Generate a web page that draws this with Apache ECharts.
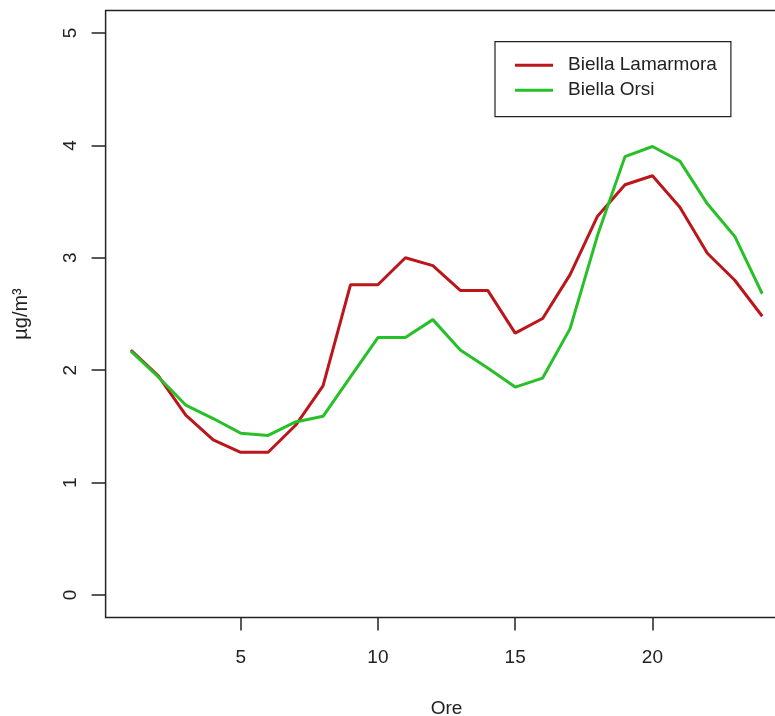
<!DOCTYPE html>
<html>
<head>
<meta charset="utf-8">
<script src="https://cdn.jsdelivr.net/npm/echarts@6/dist/echarts.min.js"></script>
<style>html,body{margin:0;padding:0;background:#fff}#c{width:775px;height:716px}</style>
</head>
<body>
<div id="c"></div>
<script>
var hours = [1,2,3,4,5,6,7,8,9,10,11,12,13,14,15,16,17,18,19,20,21,22,23,24];
var lamarmora = [2.18,1.95,1.60,1.38,1.27,1.27,1.51,1.86,2.76,2.76,3.00,2.93,2.71,2.71,2.33,2.46,2.85,3.37,3.65,3.73,3.45,3.04,2.80,2.48];
var orsi = [2.17,1.94,1.69,1.57,1.44,1.42,1.54,1.59,1.94,2.29,2.29,2.45,2.18,2.02,1.85,1.93,2.37,3.20,3.90,3.99,3.86,3.48,3.19,2.68];
var xTicks = [5,10,15,20];
var yTicks = [0,1,2,3,4,5];
var seriesNames = ['Biella Lamarmora','Biella Orsi'];
var xName = 'Ore';
var yName = 'µg/m³';

function pairs(xs, ys){ return xs.map(function(x,i){ return [x, ys[i]]; }); }

var font = 'Liberation Sans, Arial, sans-serif';
var chart = echarts.init(document.getElementById('c'));
chart.setOption({
  backgroundColor: '#fff',
  animation: false,
  grid: {
    left: 105.6, top: 10.5, width: 681.9, height: 607,
    outerBoundsMode: 'none', containLabel: false,
    show: true, borderColor: '#222', borderWidth: 1.5, backgroundColor: 'transparent'
  },
  legend: {
    orient: 'vertical',
    left: 495, top: 41.7,
    padding: [14, 14, 17, 20],
    itemGap: 6,
    itemWidth: 38, itemHeight: 3,
    icon: 'rect',
    borderColor: '#222', borderWidth: 1.2,
    backgroundColor: '#fff',
    textStyle: { fontFamily: font, fontSize: 19, color: '#222', padding: [0,0,0,10], width: 172 },
    data: seriesNames
  },
  xAxis: {
    type: 'value', min: 0.08, max: 24.92,
    name: xName, nameLocation: 'middle', nameGap: 82,
    nameTextStyle: { fontFamily: font, fontSize: 19, color: '#222' },
    axisLine: { show: false, onZero: false },
    splitLine: { show: false },
    axisTick: { show: true, inside: false, length: 13, customValues: xTicks, lineStyle: { color: '#222', width: 1.5 } },
    axisLabel: { customValues: xTicks, fontFamily: font, fontSize: 19, color: '#222', margin: 31 }
  },
  yAxis: {
    type: 'value', min: -0.2, max: 5.2,
    name: yName, nameLocation: 'middle', nameGap: 74,
    nameTextStyle: { fontFamily: font, fontSize: 20, color: '#222' },
    axisLine: { show: false, onZero: false },
    splitLine: { show: false },
    axisTick: { show: true, inside: false, length: 14, customValues: yTicks, lineStyle: { color: '#222', width: 1.5 } },
    axisLabel: { customValues: yTicks, rotate: 90, fontFamily: font, fontSize: 19, color: '#222', margin: 25 }
  },
  series: [
    { name: seriesNames[0], type: 'line', data: pairs(hours, lamarmora), symbol: 'none', color: '#bb161c', lineStyle: { width: 3, color: '#bb161c' } },
    { name: seriesNames[1], type: 'line', data: pairs(hours, orsi), symbol: 'none', color: '#28c028', lineStyle: { width: 3, color: '#28c028' } }
  ]
});
</script>
</body>
</html>
